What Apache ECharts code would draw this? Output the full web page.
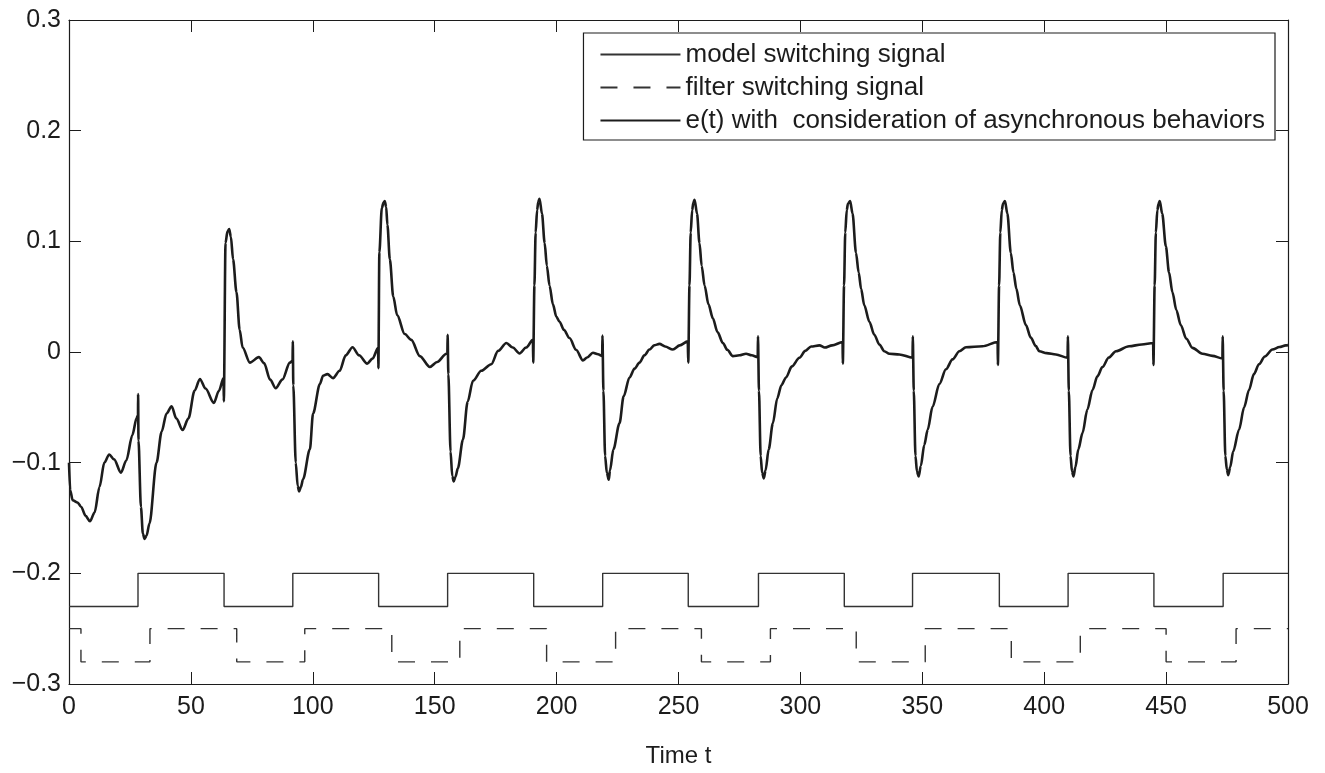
<!DOCTYPE html>
<html>

<head>
    <meta charset="UTF-8" />
    <title>e(t) switching signals</title>
    <script src="https://cdn.jsdelivr.net/npm/echarts@6/dist/echarts.min.js"></script>
    <style>
        html, body {
            margin: 0;
            padding: 0;
            background: #fff;
        }

        #chart {
            width: 1325px;
            height: 773px;
        }
    </style>
</head>

<body>
    <div id="chart"></div>
</body>
<script type="text/javascript">

    // model switching signal (step start times / levels)
    var modelTime = [0, 28.3, 63.6, 91.8, 127, 155.3, 190.6, 218.9, 254, 282.8, 318, 346, 381.6, 409.8, 445, 473.4, 500];
    var modelValue = [-0.23, -0.2, -0.23, -0.2, -0.23, -0.2, -0.23, -0.2, -0.23, -0.2, -0.23, -0.2, -0.23, -0.2, -0.23, -0.2, -0.2];

    // filter switching signal
    var filterTime = [0, 4.9, 33.2, 68.8, 96.7, 132.4, 160.3, 195.9, 224.2, 259.4, 287.7, 322.9, 351.2, 386.5, 414.8, 450, 478.7, 500];
    var filterValue = [-0.25, -0.28, -0.25, -0.28, -0.25, -0.28, -0.25, -0.28, -0.25, -0.28, -0.25, -0.28, -0.25, -0.28, -0.25, -0.28, -0.25, -0.25];

    // e(t): t 0..190
    var eTimeA = [0, 0.5, 1.5, 3.5, 5, 6.8, 8.6, 10.5, 12.5, 14.5, 16.5, 18.5, 21.3, 23.5, 26, 27.7, 28.3, 28.35, 28.5, 29.5,
        30.3, 31, 31.8, 33, 35.9, 38, 40, 42.1, 44, 46.6, 49, 51.5, 53.7, 56, 59.4, 61.5, 63.4, 63.5, 64.2, 65,
        65.7, 66.4, 67.3, 68.7, 70, 71.2, 74.2, 77.9, 80, 82.5, 84.8, 87.5, 90.6, 91.7, 91.8, 92, 93, 93.8, 94.4, 95.1,
        96, 98.8, 100.1, 102.9, 104.2, 106, 108.3, 111, 113.5, 116.3, 119, 122.3, 124.5, 126.8, 126.9, 127.3, 128.3, 129, 129.5, 130.1,
        130.6, 131.6, 133, 134.6, 137.7, 140.4, 143.9, 148, 151, 154.8, 155.2, 155.3, 155.6, 156.5, 157.2, 157.8, 158.5, 159.5, 161.6, 163.5,
        165.7, 169.1, 173.2, 176, 179.4, 182, 184.8, 187.5, 190.3];
    var eValueA = [-0.1, -0.125, -0.134, -0.136, -0.14, -0.148, -0.153, -0.145, -0.122, -0.1, -0.0926, -0.097, -0.109, -0.098, -0.075, -0.06, -0.057, -0.038, -0.08, -0.14,
        -0.164, -0.169, -0.166, -0.155, -0.1, -0.072, -0.0556, -0.049, -0.06, -0.0705, -0.06, -0.035, -0.0244, -0.033, -0.046, -0.035, -0.0235, -0.0446, 0.0985, 0.109,
        0.111, 0.104, 0.0837, 0.054, 0.02, 0.004, -0.0096, -0.0046, -0.01, -0.025, -0.0327, -0.025, -0.0096, -0.008, 0.0096, -0.03, -0.1, -0.121, -0.126, -0.122,
        -0.115, -0.088, -0.0556, -0.029, -0.0215, -0.02, -0.0236, -0.017, -0.003, 0.0043, -0.003, -0.0105, -0.006, 0.0037, -0.0147, 0.09, 0.13, 0.135, 0.1365, 0.131,
        0.115, 0.0837, 0.05, 0.0333, 0.0162, 0.011, -0.0037, -0.0135, -0.009, -0.0016, -0.001, 0.0156, -0.02, -0.09, -0.112, -0.117, -0.113, -0.105, -0.079, -0.045,
        -0.026, -0.017, -0.0111, 0.001, 0.0082, 0.004, -0.0013, 0.004, 0.011];

    // e(t): t 190..500
    var eTimeB = [190.4, 190.9, 191.4, 192, 192.5, 193, 194, 195.1, 196, 197.1, 198.5, 199.9, 201.2, 203, 205.3, 208, 210.8, 212.5, 214.9, 217, 218.7,
        218.8, 219.2, 219.9, 220.6, 221.4, 221.9, 223.3, 225.8, 227.5, 229.9, 232, 234, 236, 238.1, 240, 242.2, 244.5, 247.7, 250.5, 253.8,
        254, 254.5, 255, 255.6, 256.1, 256.6, 257.6, 258.6, 259.5, 260.7, 262.3, 264.1, 266, 268.2, 270, 272.3, 275, 277.7, 280, 282.5,
        282.6, 283, 283.7, 284.3, 285, 285.7, 287, 288.7, 290.5, 292.2, 294.1, 296.5, 299.6, 302, 304.4, 307.8, 310, 313, 317.3,
        317.4, 317.9, 318.4, 319, 319.5, 320.4, 321.4, 322.8, 323.9, 324.9, 326.2, 328.3, 330.3, 332.4, 334.4, 336.5, 340.6, 346,
        346.1, 346.5, 347.2, 347.8, 348.5, 349.4, 350.8, 352.2, 354.2, 357, 359.7, 362.4, 365.2, 367.9, 374.7, 380.9,
        381, 381.5, 382, 382.6, 383.1, 383.9, 384.9, 386.3, 387.4, 388.6, 390, 392.5, 394.5, 396.5, 398, 401, 404.8, 409.6,
        409.7, 410.1, 410.8, 411.4, 412, 412.8, 414, 415.7, 417.7, 419.8, 421.8, 423.9, 426.5, 429.4, 434.8, 440, 444.7,
        444.8, 445.3, 445.8, 446.4, 446.9, 447.4, 448.4, 449.9, 451.2, 452.6, 454.2, 456, 458.3, 460.8, 464.9, 469, 473.1,
        473.2, 473.6, 474.3, 474.9, 475.5, 476.3, 477.5, 479.9, 482, 484, 486, 488.1, 490.5, 493.6, 496.5, 499.1, 500];
    var eValueB = [-0.0096, 0.06, 0.108, 0.128, 0.136, 0.1385, 0.125, 0.0985, 0.078, 0.06, 0.043, 0.0318, 0.0274, 0.02, 0.0126, 0.002, -0.0076, -0.005, -0.0007, -0.002, -0.0037,
        0.0149, -0.035, -0.094, -0.109, -0.1154, -0.107, -0.088, -0.0644, -0.04, -0.023, -0.015, -0.0096, -0.003, 0.0022, 0.006, 0.0073, 0.005, 0.0022, 0.006, 0.0096,
        -0.0096, 0.06, 0.108, 0.128, 0.135, 0.1376, 0.125, 0.0985, 0.078, 0.06, 0.043, 0.0304, 0.018, 0.0082, 0.002, -0.0037, -0.003, -0.0016, -0.003, -0.0046,
        0.0141, -0.035, -0.094, -0.109, -0.1142, -0.107, -0.088, -0.0644, -0.042, -0.03, -0.023, -0.013, -0.0052, 0.001, 0.005, 0.006, 0.004, 0.006, 0.009,
        -0.0105, 0.06, 0.108, 0.128, 0.134, 0.1365, 0.125, 0.0896, 0.0718, 0.057, 0.0422, 0.0274, 0.0156, 0.0067, 0.0007, -0.0016, -0.0022, -0.0052,
        0.0141, -0.035, -0.094, -0.108, -0.1124, -0.103, -0.084, -0.0704, -0.0496, -0.0289, -0.0156, -0.0067, 0.0007, 0.0043, 0.0052, 0.009,
        -0.0117, 0.06, 0.108, 0.128, 0.134, 0.1365, 0.125, 0.0896, 0.0718, 0.057, 0.0422, 0.0244, 0.013, 0.0055, 0.0007, -0.001, -0.0022, -0.0052,
        0.0141, -0.035, -0.094, -0.108, -0.1124, -0.104, -0.088, -0.0733, -0.052, -0.0344, -0.022, -0.0136, -0.005, 0.0007, 0.0052, 0.0068, 0.0082,
        -0.0117, 0.06, 0.108, 0.128, 0.134, 0.1365, 0.125, 0.0956, 0.072, 0.054, 0.038, 0.0244, 0.012, 0.0037, -0.0016, -0.0035, -0.0058,
        0.0141, -0.035, -0.094, -0.106, -0.1113, -0.104, -0.09, -0.0704, -0.05, -0.0344, -0.02, -0.0111, -0.004, 0.0022, 0.0045, 0.006, 0.0062];

    var seriesNames = ['model switching signal', 'filter switching signal', 'e(t) with  consideration of asynchronous behaviors'];

    // pair x / y arrays
    function zip(xs, ys) {
        var out = [];
        for (var i = 0; i < xs.length; i++) {
            out.push([xs[i], ys[i]]);
        }
        return out;
    }

    var ink = '#1c1c1c';
    var font = '"Liberation Sans", Arial, Helvetica, sans-serif';

    var myChart = echarts.init(document.getElementById('chart'));

    function yLabel(v) {
        if (Math.abs(v) < 1e-9) return '0';
        return (v < 0 ? '\u2212' : '') + Math.abs(v).toFixed(1);
    }

    // shared axis pieces
    var axisLine = { show: true, onZero: false, lineStyle: { color: ink, width: 1.2 } };
    var axisTick = { show: true, inside: true, length: 12, lineStyle: { color: ink } };

    var option = {
        backgroundColor: '#fff',
        animation: false,
        grid: {
            left: 69,
            right: 37,
            top: 20,
            bottom: 78
        },
        legend: {
            data: seriesNames,
            orient: 'vertical',
            right: 50,
            top: 33,
            padding: [8, 10, 6, 16],
            itemGap: 6,
            itemWidth: 80,
            itemHeight: 14,
            backgroundColor: '#fff',
            borderColor: ink,
            borderWidth: 1.2,
            borderRadius: 0,
            itemStyle: { opacity: 0 },
            textStyle: {
                fontFamily: font,
                fontSize: 26,
                lineHeight: 27,
                color: ink
            }
        },
        xAxis: [{
            type: 'value',
            min: 0,
            max: 500,
            interval: 50,
            name: 'Time t',
            nameLocation: 'middle',
            nameGap: 60,
            nameTextStyle: { fontFamily: font, fontSize: 24, color: ink },
            axisLine: axisLine,
            axisTick: axisTick,
            axisLabel: { fontFamily: font, fontSize: 25, color: ink, margin: 11 },
            splitLine: { show: false }
        }, {
            type: 'value',
            position: 'top',
            min: 0,
            max: 500,
            interval: 50,
            axisLine: axisLine,
            axisTick: axisTick,
            axisLabel: { show: false },
            splitLine: { show: false }
        }],
        yAxis: [{
            type: 'value',
            min: -0.3,
            max: 0.3,
            interval: 0.1,
            axisLine: axisLine,
            axisTick: axisTick,
            axisLabel: { fontFamily: font, fontSize: 25, color: ink, margin: 8, formatter: yLabel },
            splitLine: { show: false }
        }, {
            type: 'value',
            position: 'right',
            min: -0.3,
            max: 0.3,
            interval: 0.1,
            axisLine: axisLine,
            axisTick: axisTick,
            axisLabel: { show: false },
            splitLine: { show: false }
        }],
        series: [{
            name: seriesNames[0],
            type: 'line',
            step: 'end',
            symbol: 'none',
            data: zip(modelTime, modelValue),
            lineStyle: { color: '#333', width: 1.4 },
            itemStyle: { color: '#333' },
            z: 2
        }, {
            name: seriesNames[1],
            type: 'line',
            step: 'end',
            symbol: 'none',
            data: zip(filterTime, filterValue),
            lineStyle: { color: '#333', width: 1.4, type: [17, 16] },
            itemStyle: { color: '#333' },
            z: 2
        }, {
            name: seriesNames[2],
            type: 'line',
            symbol: 'none',
            smooth: 0.3,
            smoothMonotone: 'x',
            data: zip(eTimeA.concat(eTimeB), eValueA.concat(eValueB)),
            lineStyle: { color: ink, width: 2.6, join: 'round' },
            itemStyle: { color: ink },
            z: 3
        }]
    };
    myChart.setOption(option);

</script>

</html>
